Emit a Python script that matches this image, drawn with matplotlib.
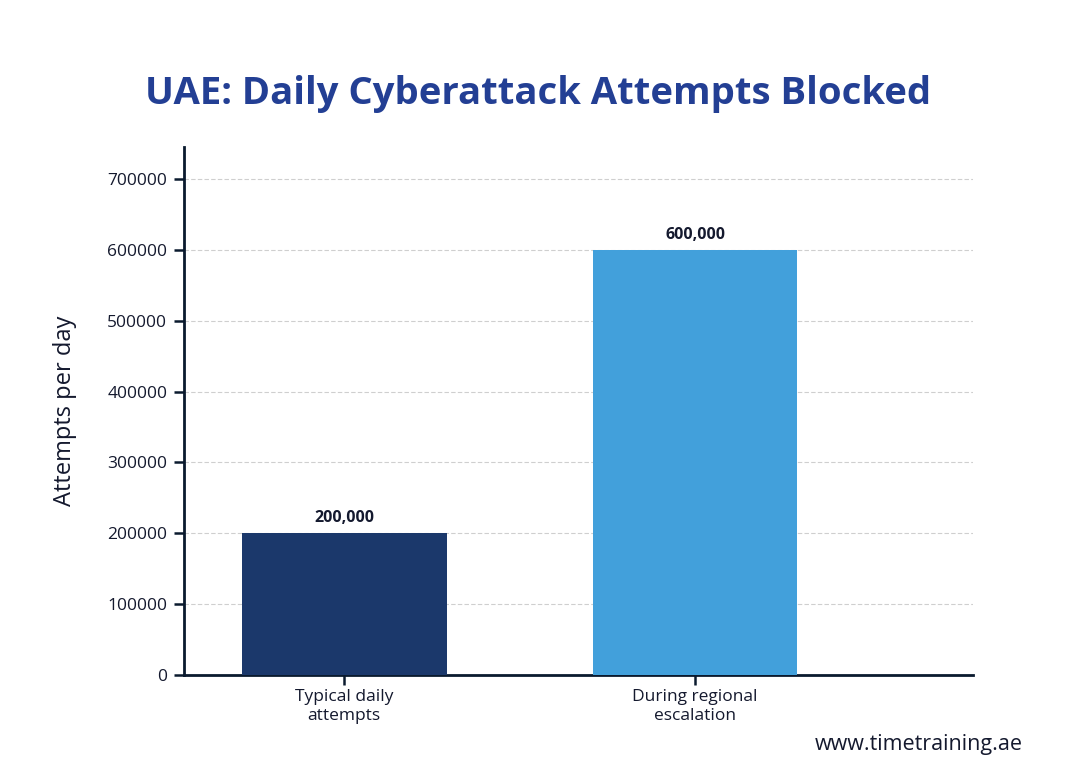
import matplotlib
matplotlib.use("Agg")
import matplotlib.pyplot as plt

categories = ["Typical daily\nattempts", "During regional\nescalation"]
values = [200000, 600000]
value_labels = ["200,000", "600,000"]
bar_colors = ["#1b386b", "#42a0db"]
yticks = [0, 100000, 200000, 300000, 400000, 500000, 600000, 700000]

plt.rcParams['font.family'] = ['Open Sans', 'DejaVu Sans']

fig = plt.figure(figsize=(10.8, 7.77), dpi=100)
ax = fig.add_axes([0.1704, 0.1313, 0.7305, 0.6795])

x = list(range(len(categories)))
ax.bar(x, values, width=0.584, color=bar_colors, zorder=3)
for xi, v, lab in zip(x, values, value_labels):
    ax.annotate(lab, (xi, v), xytext=(0, 5), textcoords="offset points",
                ha="center", va="bottom", fontsize=11.5, fontweight="bold",
                color="#14192e")

ax.set_xlim(-0.456, 1.792)
ax.set_ylim(0, 745000)
ax.set_yticks(yticks)
ax.set_yticklabels([str(t) for t in yticks])
ax.set_xticks(x)
ax.set_xticklabels(categories, fontsize=12.5, color="#14192e", linespacing=1.3)
ax.tick_params(axis="y", labelsize=12.5, labelcolor="#14192e", length=7, width=1.8,
               color="#0a1a2e", pad=5)
ax.tick_params(axis="x", length=7, width=1.8, color="#0a1a2e", pad=3)

ax.grid(axis="y", linestyle=(0, (4, 2)), color="#cfcfcf", linewidth=0.8, zorder=0)
ax.set_axisbelow(True)
for s in ["top", "right"]:
    ax.spines[s].set_visible(False)
for s in ["left", "bottom"]:
    ax.spines[s].set_color("#0a1a2e")
    ax.spines[s].set_linewidth(2)

ax.set_ylabel("Attempts per day", fontsize=17, color="#14192e", labelpad=22)

fig.text(0.498, 0.879, "UAE: Daily Cyberattack Attempts Blocked", ha="center",
         va="center", fontsize=27.5, fontweight="bold", color="#233f94")
fig.text(0.947, 0.042, "www.timetraining.ae", ha="right", va="center",
         fontsize=15.5, color="#14192e")

fig.savefig("out.png", dpi=100, facecolor="white")
